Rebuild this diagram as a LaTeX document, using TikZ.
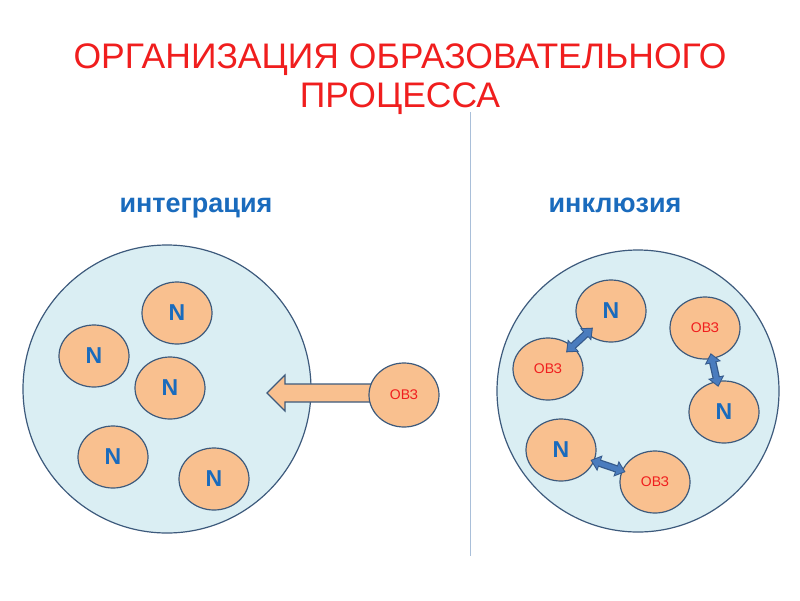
\documentclass[tikz,border=0pt]{standalone}
\usepackage{fontspec}
\setmainfont{Liberation Sans}
\usetikzlibrary{arrows.meta,calc,shapes.geometric}
\definecolor{bgblue}{HTML}{DAEEF3}
\definecolor{edge}{HTML}{3D5A7C}
\definecolor{peach}{HTML}{F9C08F}
\definecolor{tblue}{HTML}{1A6BBD}
\definecolor{tred}{HTML}{F01E1E}
\definecolor{arr}{HTML}{4A7CBE}
\definecolor{arredge}{HTML}{35598A}
\definecolor{vline}{HTML}{A9BFD9}
\tikzset{
  big/.style={circle, draw=edge, fill=bgblue, line width=1.2pt, minimum size=#1},
  cell/.style={ellipse, draw=edge, fill=peach, line width=1.2pt, minimum width=70pt, minimum height=62pt, inner sep=0pt},
  ntext/.style={font=\fontsize{23}{25}\selectfont\bfseries, text=tblue},
  otext/.style={font=\fontsize{14}{16}\selectfont, text=tred},
  dblout/.style={arredge, line width=7.5pt, {Triangle[width=16pt,length=10pt]}-{Triangle[width=16pt,length=10pt]}, shorten <=#1, shorten >=#1},
  dblin/.style={arr, line width=5pt, {Triangle[width=12pt,length=7.5pt]}-{Triangle[width=12pt,length=7.5pt]}, shorten <=#1+1.6pt, shorten >=#1+1.6pt},
  head/.style={font=\fontsize{27}{30}\selectfont\bfseries, text=tblue, anchor=base},
  ttl/.style={font=\fontsize{35.5}{40}\selectfont, text=tred, anchor=base},
}
\begin{document}
\begin{tikzpicture}[x=1pt,y=-1pt]
\useasboundingbox (0,0) rectangle (800,600);
\fill[white] (0,0) rectangle (800,600);
% title
\node[ttl] (title1) at (400,68) {ОРГАНИЗАЦИЯ ОБРАЗОВАТЕЛЬНОГО};
\node[ttl] (title2) at (400,107) {ПРОЦЕССА};
% divider
\coordinate (vt) at (470,112);
\coordinate (vb) at (470,556);
\draw[vline, line width=1pt] (vt) -- (vb);
% headings
\node[head] (h1) at (196,212) {интеграция};
\node[head] (h2) at (615,212) {инклюзия};
% left big circle
\node[big=288pt] (L) at (167,389) {};
\node[cell] (n1) at (177,313) {};
\node[ntext] at (n1) {N};
\node[cell] (n2) at (94,356) {};
\node[ntext] at (n2) {N};
\node[cell] (n3) at (170,388) {};
\node[ntext] at (n3) {N};
\node[cell] (n4) at (113,457) {};
\node[ntext] at (n4) {N};
\node[cell] (n5) at (214,479) {};
\node[ntext] at (n5) {N};
% big arrow
\coordinate (ow) at (370,393);
\draw[edge, fill=peach, line width=1.2pt, line join=miter]
  ($(ow)+(2,-9)$) -- ($(ow)+(-85,-9)$) -- ($(ow)+(-85,-18)$) -- ($(ow)+(-103,0)$)
  -- ($(ow)+(-85,18)$) -- ($(ow)+(-85,9)$) -- ($(ow)+(2,9)$);
\node[cell, minimum height=64pt] (ovz) at (404,395) {};
\node[otext] at (ovz) {ОВЗ};
% right big circle
\node[big=282pt] (R) at (638,391) {};
\node[cell] (r1) at (611,311) {};
\node[ntext] at (r1) {N};
\node[cell] (r2) at (548,369) {};
\node[otext] at (r2) {ОВЗ};
\node[cell] (r3) at (705,328) {};
\node[otext] at (r3) {ОВЗ};
\node[cell] (r4) at (724,412) {};
\node[ntext] at (r4) {N};
\node[cell] (r5) at (561,450) {};
\node[ntext] at (r5) {N};
\node[cell] (r6) at (655,482) {};
\node[otext] at (r6) {ОВЗ};
\draw[dblout=-9pt] (r1) -- (r2);
\draw[dblin=-9pt] (r1) -- (r2);
\draw[dblout=-6pt] (r3) -- (r4);
\draw[dblin=-6pt] (r3) -- (r4);
\draw[dblout=-4pt] (r5) -- (r6);
\draw[dblin=-4pt] (r5) -- (r6);
\end{tikzpicture}
\end{document}
